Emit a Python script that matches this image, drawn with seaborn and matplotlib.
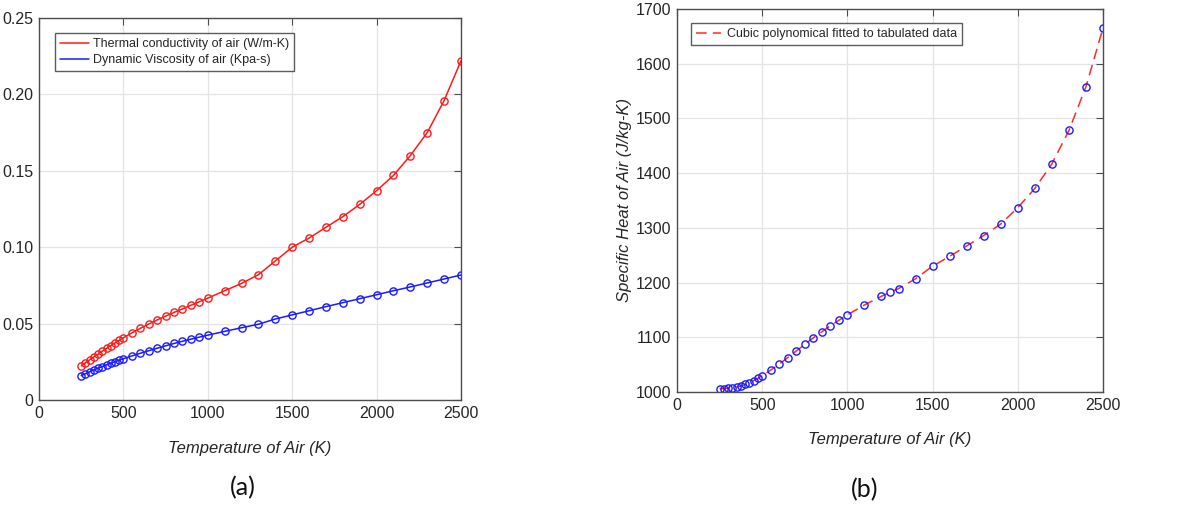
import matplotlib
matplotlib.use("Agg")
import matplotlib.pyplot as plt
import seaborn as sns
from matplotlib.lines import Line2D

# ---------------- data ----------------
temp_a = [250, 275, 300, 325, 350, 375, 400, 425, 450, 475, 500, 550, 600, 650, 700,
          750, 800, 850, 900, 950, 1000, 1100, 1200, 1300, 1400, 1500, 1600, 1700,
          1800, 1900, 2000, 2100, 2200, 2300, 2400, 2500]
thermal_k = [0.0223, 0.0243, 0.0263, 0.0282, 0.0300, 0.0319, 0.0338, 0.0356, 0.0373,
             0.0390, 0.0407, 0.0439, 0.0469, 0.0497, 0.0524, 0.0549, 0.0573, 0.0596,
             0.0620, 0.0643, 0.0667, 0.0715, 0.0763, 0.0820, 0.0910, 0.1000, 0.1060,
             0.1130, 0.1200, 0.1280, 0.1370, 0.1470, 0.1600, 0.1750, 0.1960, 0.2220]
viscosity = [0.01596, 0.0172, 0.01846, 0.0196, 0.02082, 0.0219, 0.02301, 0.0240,
             0.02507, 0.0260, 0.02701, 0.02884, 0.03058, 0.03225, 0.03388, 0.03546,
             0.03698, 0.03843, 0.03981, 0.04113, 0.04244, 0.0449, 0.0473, 0.0496,
             0.0530, 0.0557, 0.0584, 0.0611, 0.0637, 0.0663, 0.0689, 0.0715, 0.0740,
             0.0766, 0.0792, 0.0818]

temp_b = [250, 275, 300, 325, 350, 375, 400, 425, 450, 475, 500, 550, 600, 650, 700,
          750, 800, 850, 900, 950, 1000, 1100, 1200, 1250, 1300, 1400, 1500, 1600,
          1700, 1800, 1900, 2000, 2100, 2200, 2300, 2400, 2500]
specific_heat = [1006, 1006, 1007, 1008, 1009, 1011, 1014, 1017, 1021, 1025, 1030,
                 1040, 1051, 1063, 1075, 1087, 1099, 1110, 1121, 1131, 1141, 1159,
                 1175, 1182, 1189, 1207, 1230, 1248, 1267, 1286, 1307, 1337, 1372,
                 1417, 1478, 1558, 1665]

x_ticks = [0, 500, 1000, 1500, 2000, 2500]
ya_ticks = [0, 0.05, 0.10, 0.15, 0.20, 0.25]
ya_labels = ["0", "0.05", "0.10", "0.15", "0.20", "0.25"]
yb_ticks = [1000, 1100, 1200, 1300, 1400, 1500, 1600, 1700]

# ---------------- style ----------------
sns.set_style("white")
plt.rcParams["font.family"] = ["Liberation Sans", "DejaVu Sans"]

fig = plt.figure(figsize=(11.93, 5.08), dpi=100)
ax1 = fig.add_axes([39 / 1193, 108 / 508, 422 / 1193, 382 / 508])
ax2 = fig.add_axes([677 / 1193, 116 / 508, 426 / 1193, 383 / 508])

spine_c = "#4d4d4d"
for ax in (ax1, ax2):
    ax.grid(True, color="#e3e3e3", lw=0.9)
    ax.set_axisbelow(True)
    for s in ax.spines.values():
        s.set_color(spine_c)
        s.set_linewidth(1.0)
    ax.tick_params(direction="in", length=5, width=0.8, color=spine_c,
                   top=True, right=True, labelsize=11.5, labelcolor="#262626",
                   pad=4)
    ax.set_xlim(0, 2500)
    ax.set_xticks(x_ticks)

# ---------------- (a) ----------------
mk = dict(marker="o", markersize=5.2, markerfacecolor="none", markeredgewidth=1.0)
sns.lineplot(x=temp_a, y=thermal_k, ax=ax1, color="#ff1a1a", lw=1.1,
             markeredgecolor="#ff1a1a", **mk)
sns.lineplot(x=temp_a, y=viscosity, ax=ax1, color="#1a1aff", lw=1.1,
             markeredgecolor="#1a1aff", **mk)
ax1.set_ylim(0, 0.25)
ax1.set_yticks(ya_ticks)
ax1.set_yticklabels(ya_labels)
ax1.set_xlabel("Temperature of Air (K)", fontsize=12, style="italic",
               color="#262626", labelpad=15)
ax1.set_ylabel("")
h1 = [Line2D([], [], color="#ff1a1a", lw=1.1), Line2D([], [], color="#1a1aff", lw=1.1)]
leg1 = ax1.legend(h1, ["Thermal conductivity of air (W/m-K)",
                       "Dynamic Viscosity of air (Kpa-s)"],
                  loc="upper left", bbox_to_anchor=(0.038, 0.961), fontsize=9,
                  frameon=True, fancybox=False, handlelength=2.3, handletextpad=0.3,
                  borderpad=0.4, labelspacing=0.35, borderaxespad=0)
leg1.get_frame().set_edgecolor("#333333")
leg1.get_frame().set_linewidth(1.0)

# ---------------- (b) ----------------
sns.lineplot(x=temp_b, y=specific_heat, ax=ax2, color="#ff2a2a", lw=1.1,
             linestyle=(0, (7, 4)))
sns.lineplot(x=temp_b, y=specific_heat, ax=ax2, color="#1a1aff", linestyle="",
             markeredgecolor="#1a1aff", **mk)
ax2.set_ylim(1000, 1700)
ax2.set_yticks(yb_ticks)
ax2.set_xlabel("Temperature of Air (K)", fontsize=12, style="italic",
               color="#262626", labelpad=14)
ax2.set_ylabel("Specific Heat of Air (J/kg-K)", fontsize=12, style="italic",
               color="#262626", labelpad=3)
h2 = [Line2D([], [], color="#ff2a2a", lw=1.1, linestyle=(0, (7, 4)))]
leg2 = ax2.legend(h2, ["Cubic polynomical fitted to tabulated data"],
                  loc="upper left", bbox_to_anchor=(0.033, 0.963), fontsize=9,
                  frameon=True, fancybox=False, handlelength=2.0, handletextpad=0.5,
                  borderpad=0.4, borderaxespad=0)
leg2.get_frame().set_edgecolor("#333333")
leg2.get_frame().set_linewidth(1.0)

# ---------------- captions ----------------
fig.text(243 / 1193, 1 - 488 / 508, "(a)", ha="center", va="center",
         fontsize=18, family=["Lato", "DejaVu Sans"], color="#111111")
fig.text(865 / 1193, 1 - 490 / 508, "(b)", ha="center", va="center",
         fontsize=18, family=["Lato", "DejaVu Sans"], color="#111111")

fig.savefig("out.png", dpi=100, facecolor="white")
